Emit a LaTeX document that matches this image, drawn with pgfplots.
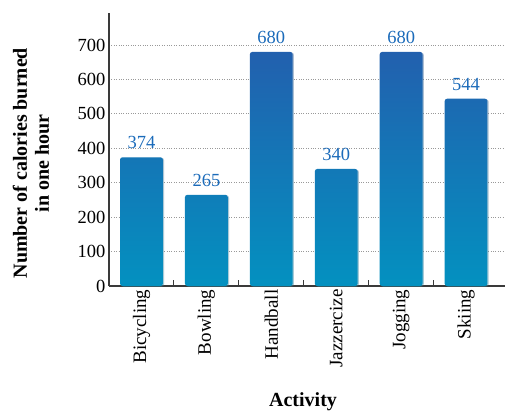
\documentclass[border=0pt]{standalone}
\usepackage{pgfplots}
\pgfplotsset{compat=1.18}
\usepackage{fontspec}
\setmainfont{Liberation Serif}
\usetikzlibrary{shadows}
\definecolor{axisgray}{HTML}{3A3A3A}
\definecolor{bartop}{HTML}{2260AE}
\definecolor{barmid}{HTML}{036FB5}
\definecolor{barbot}{HTML}{0391C0}
\definecolor{lblblue}{HTML}{1B6BBA}
\begin{document}
\begin{tikzpicture}
\begin{axis}[
  name=main,
  scale only axis, width=396pt, height=273pt,
  xmin=-0.5, xmax=5.6, ymin=0, ymax=793,
  axis x line*=bottom, axis y line*=left,
  axis line style={axisgray, line width=1.3pt},
  xtick={0,...,5},
  xticklabels={Bicycling,Bowling,Handball,Jazzercize,Jogging,Skiing},
  minor xtick={0.5,1.5,2.5,3.5,4.5},
  major tick length=0pt, minor tick length=6pt, tick align=inside,
  minor tick style={axisgray, line width=1pt},
  x tick label style={rotate=90, anchor=east, font=\fontsize{19}{21}\selectfont},
  ytick={0,100,...,700},
  y tick label style={font=\fontsize{18.5}{20}\selectfont},
  /pgf/number format/assume math mode=true,
  ymajorgrids,
  major grid style={gray!80, dotted, line width=0.8pt},
  every axis y label/.style={at={(axis description cs:0,0.45)}, xshift=-78pt, rotate=90, anchor=center,
     align=center, font=\bfseries\fontsize{20}{22}\selectfont},
  every axis x label/.style={at={(axis description cs:0.49,0)}, yshift=-116pt, anchor=center,
     font=\bfseries\fontsize{20}{22}\selectfont},
  ylabel={Number of calories burned\\in one hour},
  xlabel={Activity},
  nodes near coords,
  nodes near coords style={lblblue, font=\fontsize{18.5}{20}\selectfont, anchor=south, yshift=5pt},
  clip=false,
]
\addplot[ybar, bar width=0.66, draw=none, top color=bartop, middle color=barmid, bottom color=barbot,
  rounded corners=2.5pt, drop shadow={shadow xshift=1.2pt, shadow yshift=-0.6pt, opacity=0.25}]
  coordinates {(0,374) (1,265) (2,680) (3,340) (4,680) (5,544)};
\end{axis}
\path[use as bounding box] ([xshift=-109pt,yshift=-127pt]main.south west) rectangle ([xshift=1pt,yshift=13pt]main.north east);
\end{tikzpicture}
\end{document}
